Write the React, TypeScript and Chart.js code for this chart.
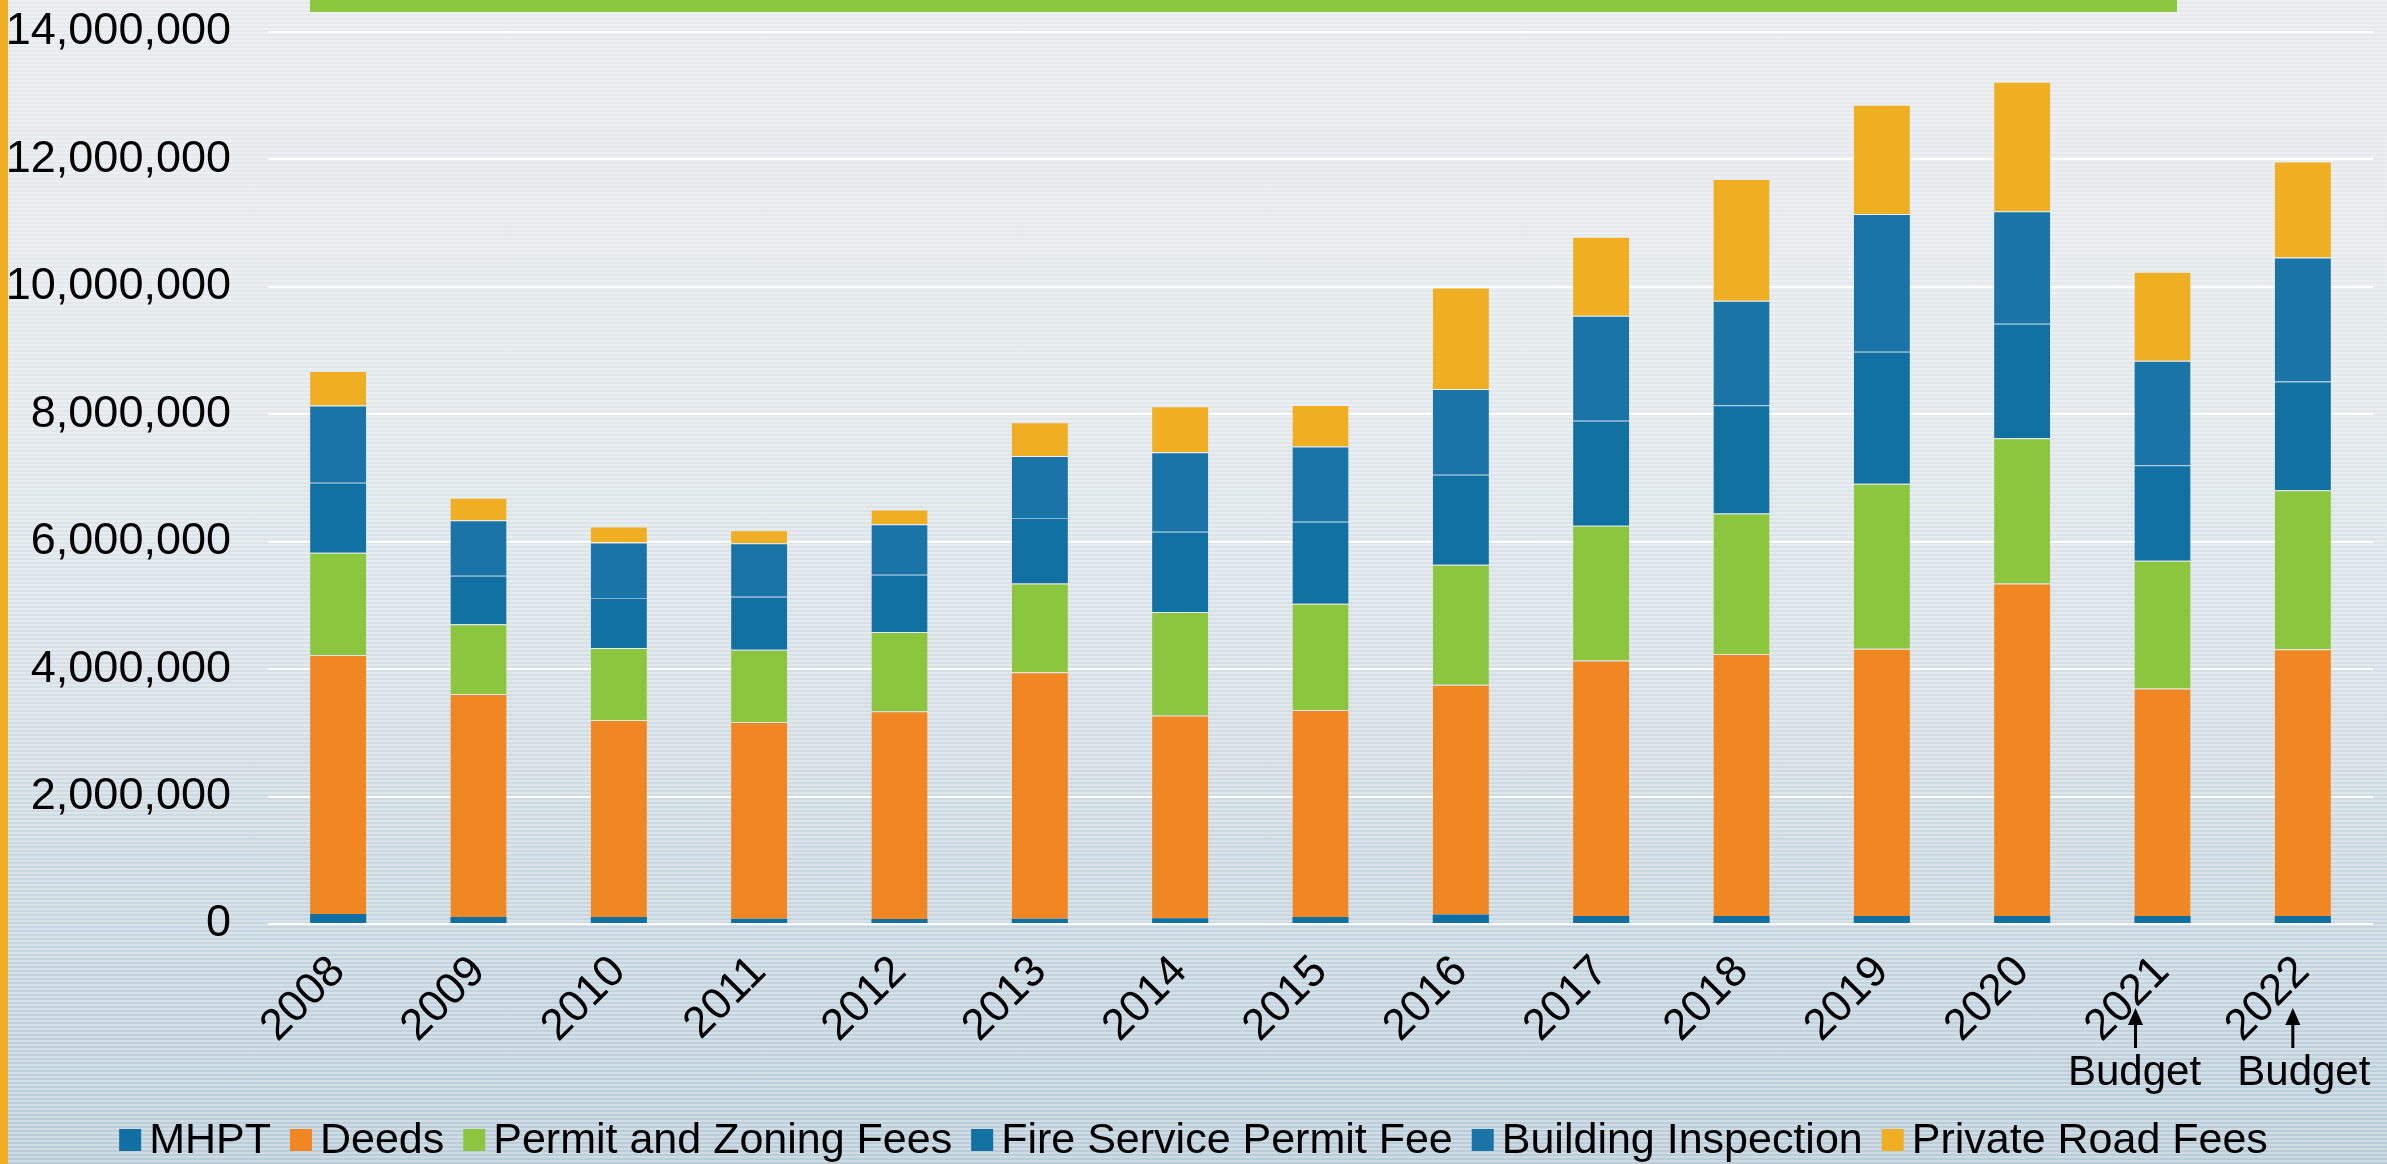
import React, { useEffect, useRef } from 'react';
import { Chart, registerables } from 'chart.js';

Chart.register(...registerables);

// ---- data ----
const years = ['2008', '2009', '2010', '2011', '2012', '2013', '2014', '2015', '2016', '2017', '2018', '2019', '2020', '2021', '2022'];
const mhpt = [156000, 108000, 108000, 84000, 78000, 84000, 90000, 108000, 150000, 125000, 125000, 125000, 125000, 125000, 125000];
const deeds = [4066000, 3502000, 3093000, 3087000, 3261000, 3868000, 3183000, 3249000, 3604000, 4012000, 4111000, 4195000, 5218000, 3570000, 4186000];
const permitZoning = [1604000, 1093000, 1129000, 1135000, 1244000, 1393000, 1622000, 1670000, 1886000, 2114000, 2206000, 2588000, 2281000, 2006000, 2497000];
const fireService = [1099000, 762000, 787000, 829000, 900000, 1027000, 1261000, 1285000, 1411000, 1648000, 1698000, 2073000, 1798000, 1498000, 1706000];
const buildingInspection = [1213000, 871000, 871000, 841000, 793000, 973000, 1249000, 1184000, 1345000, 1647000, 1640000, 2163000, 1764000, 1640000, 1948000];
const privateRoad = [541000, 355000, 252000, 204000, 228000, 529000, 721000, 648000, 1594000, 1241000, 1914000, 1715000, 2034000, 1398000, 1506000];

const seriesNames = ['MHPT', 'Deeds', 'Permit and Zoning Fees', 'Fire Service Permit Fee', 'Building Inspection', 'Private Road Fees'];
const seriesColors = ['#1170A3', '#F08722', '#8CC63F', '#1171A3', '#1A74A8', '#F0AF22'];

const yMin = 0;
const yMax = 14000000;
const yStep = 2000000;

const budgetYears = ['2021', '2022'];
const budgetText = 'Budget';

const FONT = "'Liberation Sans', Arial, Helvetica, sans-serif";

const budgetPlugin = {
  id: 'budgetNotes',
  afterDraw(chart: any) {
    const { ctx, scales, chartArea } = chart;
    const xs = scales.x;
    const base = chartArea.bottom;
    const arrowOffsets = [-27, -10];
    const textOffsets = [-28, 1];
    ctx.save();
    ctx.fillStyle = '#000';
    ctx.strokeStyle = '#000';
    budgetYears.forEach((yr, i) => {
      const idx = years.indexOf(yr);
      const px = xs.getPixelForValue(idx);
      const ax = px + arrowOffsets[i];
      ctx.lineWidth = 3;
      ctx.beginPath();
      ctx.moveTo(ax, base + 124);
      ctx.lineTo(ax, base + 98);
      ctx.stroke();
      ctx.beginPath();
      ctx.moveTo(ax, base + 84);
      ctx.lineTo(ax - 7.5, base + 101);
      ctx.lineTo(ax + 7.5, base + 101);
      ctx.closePath();
      ctx.fill();
      ctx.font = `42px ${FONT}`;
      ctx.textAlign = 'center';
      ctx.textBaseline = 'alphabetic';
      ctx.fillText(budgetText, px + textOffsets[i], base + 161);
    });
    ctx.restore();
  },
};

const legendPlugin = {
  id: 'bottomLegend',
  afterDraw(chart: any) {
    const ctx = chart.ctx;
    const box = 22;
    const gapBoxText = 8;
    const gapItems = 19;
    ctx.save();
    ctx.font = `43px ${FONT}`;
    const widths = seriesNames.map((n) => ctx.measureText(n).width);
    const total =
      widths.reduce((a, w) => a + box + gapBoxText + w, 0) + gapItems * (seriesNames.length - 1);
    let x = chart.width / 2 - total / 2;
    const cy = chart.height - 24;
    ctx.textAlign = 'left';
    ctx.textBaseline = 'middle';
    seriesNames.forEach((name, i) => {
      ctx.fillStyle = seriesColors[i];
      ctx.fillRect(x, cy - box / 2, box, box);
      x += box + gapBoxText;
      ctx.fillStyle = '#000';
      ctx.fillText(name, x, cy + 1);
      x += widths[i] + gapItems;
    });
    ctx.restore();
  },
};

export default function App() {
  const canvasRef = useRef<HTMLCanvasElement | null>(null);

  useEffect(() => {
    if (!canvasRef.current) return;
    const seriesData = [mhpt, deeds, permitZoning, fireService, buildingInspection, privateRoad];
    const chart = new Chart(canvasRef.current, {
      type: 'bar',
      data: {
        labels: years,
        datasets: seriesNames.map((name, i) => ({
          label: name,
          data: seriesData[i],
          backgroundColor: seriesColors[i],
          borderColor: i === 3 ? 'rgba(110,165,205,0.8)' : 'rgba(255,255,255,0.12)',
          borderWidth: { top: i === 0 ? 0 : 1, bottom: 0, left: 0, right: 0 },
          borderSkipped: false,
          barPercentage: 0.4,
          categoryPercentage: 1.0,
        })),
      },
      options: {
        responsive: true,
        maintainAspectRatio: false,
        animation: false,
        layout: { padding: { left: 0, right: 14, top: 32, bottom: 0 } },
        plugins: {
          legend: { display: false },
          tooltip: { enabled: false },
          title: { display: false },
        },
        scales: {
          x: {
            stacked: true,
            grid: { display: false },
            border: { display: false },
            ticks: {
              autoSkip: false,
              maxRotation: 45,
              minRotation: 45,
              padding: 14,
              color: '#000',
              font: { family: FONT, size: 44 },
            },
            afterFit: (s: any) => {
              s.height = 240;
              s.paddingLeft = 0;
              s.paddingRight = 0;
            },
          },
          y: {
            stacked: true,
            min: yMin,
            max: yMax,
            ticks: {
              stepSize: yStep,
              padding: 37,
              color: '#000',
              font: { family: FONT, size: 45 },
              callback: (v: any) => Number(v).toLocaleString('en-US'),
            },
            grid: { color: '#ffffff', lineWidth: 2, drawTicks: false },
            border: { display: false },
            afterFit: (s: any) => {
              s.width = 268;
              s.paddingTop = 0;
              s.paddingBottom = 0;
            },
          },
        },
      },
      plugins: [budgetPlugin, legendPlugin],
    });
    return () => chart.destroy();
  }, []);

  return (
    <div
      style={{
        position: 'fixed',
        left: 0,
        top: 0,
        width: 2387,
        height: 1164,
        overflow: 'hidden',
        background:
          'repeating-linear-gradient(to bottom, rgba(255,255,255,0.3) 0px, rgba(255,255,255,0.3) 2px, rgba(255,255,255,0) 2px, rgba(255,255,255,0) 4px), linear-gradient(to bottom, #E6EAED 0%, #E2E8EC 35%, #D5DFE5 60%, #C5D5DF 82%, #B9CCD8 100%)',
      }}
    >
      <div style={{ position: 'absolute', left: 0, top: 0, width: 8, height: '100%', background: '#F0AE22' }} />
      <div style={{ position: 'absolute', left: 310, top: 0, width: 1867, height: 12, background: '#8DC63F' }} />
      <div style={{ position: 'absolute', left: 0, top: 0, width: 2387, height: 1164 }}>
        <canvas ref={canvasRef} />
      </div>
    </div>
  );
}
